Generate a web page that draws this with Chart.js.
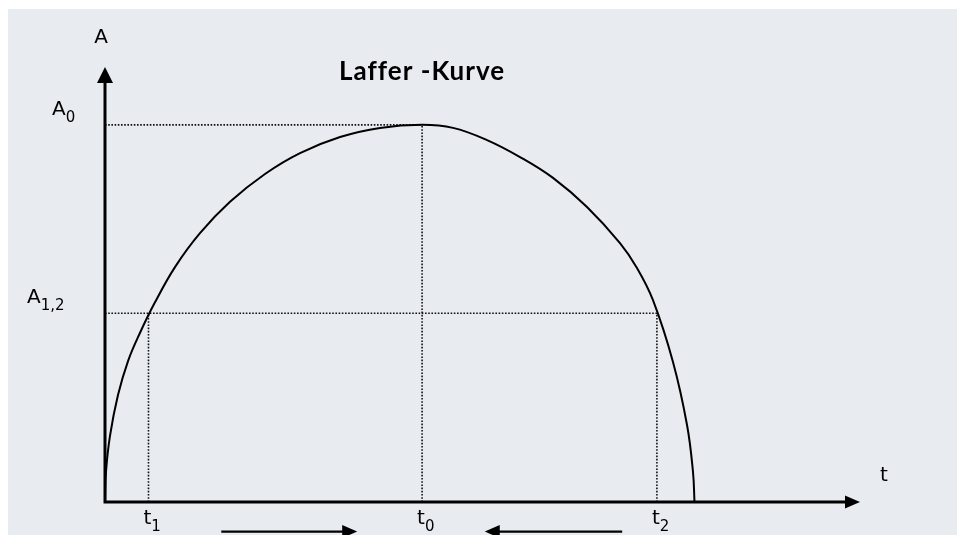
<!DOCTYPE html>
<html>
<head>
<meta charset="utf-8">
<script src="https://cdn.jsdelivr.net/npm/chart.js@4/dist/chart.umd.min.js"></script>
<style>
  body { margin: 0; background: #ffffff; }
  canvas { display: block; }
</style>
</head>
<body>
<canvas id="lafferPlot" width="957" height="535"></canvas>
<script>
// curve (t = tax rate, A = revenue, arbitrary units 0..100)
var curveT = [0, 0.13, 0.66, 1.72, 3.05, 4.64, 6.62, 9.27, 12.58, 16.56, 21.19, 25.83, 31.13, 36.42, 42.0,
              46.09, 50.6, 54.97, 59.34, 63.84, 68.21, 70.46, 72.58, 75.23, 77.09, 77.88, 78.08];
var curveA = [0, 6.9, 15.2, 24.6, 32.4, 38.9, 45.9, 54.0, 61.8, 69.0, 75.4, 80.2, 83.9, 86.0, 86.7,
              86.0, 83.2, 79.3, 74.5, 67.8, 59.5, 53.8, 46.4, 32.2, 17.7, 6.9, 0];

// marked rates and revenues
var tLabels = ['t1', 't0', 't2'];
var tValues = [5.76, 42.0, 73.1];
var aLabels = ['A0', 'A1,2'];
var aValues = [86.7, 43.4];
// revenue belonging to each marked rate
var tHeights = [43.4, 86.7, 43.4];

var titleText = 'Laffer -Kurve';

function dotted(points) {
    return {
        data: points,
        showLine: true,
        borderColor: '#111111',
        borderWidth: 1.6,
        borderDash: [1.6, 1.6],
        pointRadius: 0,
        clip: false
    };
}

/**
 * background, axes with arrows and all the labels
 */
var decoPlugin = {
    id: 'deco',
    beforeDraw: function(chart) {
        var ctx = chart.ctx;
        ctx.save();
        ctx.fillStyle = '#ffffff';
        ctx.fillRect(0, 0, chart.width, chart.height);
        ctx.fillStyle = '#e8ebf0';
        ctx.fillRect(8, 9, chart.width - 8, chart.height - 9);
        ctx.restore();
    },
    afterDatasetsDraw: function(chart) {
        var ctx = chart.ctx;
        var xs = chart.scales.x, ys = chart.scales.y;
        var x0 = xs.getPixelForValue(0), y0 = ys.getPixelForValue(0);
        var xEnd = xs.getPixelForValue(100), yEnd = ys.getPixelForValue(100);
        ctx.save();
        ctx.strokeStyle = '#000000';
        ctx.fillStyle = '#000000';
        ctx.lineWidth = 3;
        // axes
        ctx.beginPath();
        ctx.moveTo(x0, yEnd + 10);
        ctx.lineTo(x0, y0);
        ctx.lineTo(xEnd - 10, y0);
        ctx.stroke();
        // arrow heads
        ctx.beginPath();
        ctx.moveTo(x0, yEnd);
        ctx.lineTo(x0 - 8, yEnd + 16);
        ctx.lineTo(x0 + 8, yEnd + 16);
        ctx.closePath();
        ctx.fill();
        ctx.beginPath();
        ctx.moveTo(xEnd, y0);
        ctx.lineTo(xEnd - 15, y0 - 6.5);
        ctx.lineTo(xEnd - 15, y0 + 6.5);
        ctx.closePath();
        ctx.fill();

        // the two arrows below the axis
        var ya = ys.getPixelForValue(-6.8);
        ctx.lineWidth = 2.2;
        var r1 = xs.getPixelForValue(15.4), r2 = xs.getPixelForValue(33.4);
        ctx.beginPath(); ctx.moveTo(r1, ya); ctx.lineTo(r2 - 12, ya); ctx.stroke();
        ctx.beginPath(); ctx.moveTo(r2, ya); ctx.lineTo(r2 - 15, ya - 6.5); ctx.lineTo(r2 - 15, ya + 6.5); ctx.closePath(); ctx.fill();
        var l1 = xs.getPixelForValue(50.3), l2 = xs.getPixelForValue(68.5);
        ctx.beginPath(); ctx.moveTo(l1 + 12, ya); ctx.lineTo(l2, ya); ctx.stroke();
        ctx.beginPath(); ctx.moveTo(l1, ya); ctx.lineTo(l1 + 15, ya - 6.5); ctx.lineTo(l1 + 15, ya + 6.5); ctx.closePath(); ctx.fill();

        // title
        ctx.font = 'bold 26px Lato';
        ctx.letterSpacing = '1px';
        ctx.textAlign = 'center';
        ctx.textBaseline = 'alphabetic';
        ctx.fillText(titleText, xs.getPixelForValue(42.0), 80);
        ctx.letterSpacing = '0px';

        // axis names
        ctx.font = '20px "DejaVu Sans"';
        ctx.fillText('A', x0 - 4, 43);
        ctx.textAlign = 'left';
        ctx.fillText('t', 880, 481);

        // marks on t axis
        for (var i = 0; i < tLabels.length; i++) {
            drawSub(ctx, tLabels[i].charAt(0), tLabels[i].substring(1), xs.getPixelForValue(tValues[i]) - 5, y0 + 22);
        }
        // marks on A axis
        var aLeft = [53, 78];
        for (var j = 0; j < aLabels.length; j++) {
            drawSub(ctx, aLabels[j].charAt(0), aLabels[j].substring(1), x0 - aLeft[j], ys.getPixelForValue(aValues[j]) - 10);
        }
        ctx.restore();
    }
};

function drawSub(ctx, main, sub, x, baseline) {
    ctx.textAlign = 'left';
    ctx.font = '20px "DejaVu Sans"';
    ctx.fillText(main, x, baseline);
    var w = ctx.measureText(main).width;
    ctx.font = '15px "DejaVu Sans"';
    ctx.fillText(sub, x + w, baseline + 7);
}

function draw() {
    var plotArea = document.getElementById('lafferPlot');
    var curve = [];
    for (var i = 0; i < curveT.length; i++) {
        curve.push({x: curveT[i], y: curveA[i]});
    }
    var datasets = [];
    datasets.push({
        data: curve,
        showLine: true,
        borderColor: '#000000',
        borderWidth: 2,
        pointRadius: 0,
        tension: 0.4,
        clip: false
    });
    // horizontal guides
    datasets.push(dotted([{x: 0, y: aValues[0]}, {x: tValues[1], y: aValues[0]}]));
    datasets.push(dotted([{x: 0, y: aValues[1]}, {x: tValues[2], y: aValues[1]}]));
    // vertical guides
    for (var k = 0; k < tValues.length; k++) {
        datasets.push(dotted([{x: tValues[k], y: 0}, {x: tValues[k], y: tHeights[k]}]));
    }

    var chartObject = {};
    chartObject['type'] = 'scatter';
    chartObject['data'] = {datasets: datasets};
    chartObject['options'] = {
        responsive: false,
        animation: false,
        layout: {padding: {left: 105, right: 97, top: 67, bottom: 33}},
        plugins: {legend: {display: false}, tooltip: {enabled: false}},
        scales: {
            x: {type: 'linear', min: 0, max: 100, display: false},
            y: {type: 'linear', min: 0, max: 100, display: false}
        }
    };
    chartObject['plugins'] = [decoPlugin];
    new Chart(plotArea, chartObject);
}

draw();
</script>
</body>
</html>
